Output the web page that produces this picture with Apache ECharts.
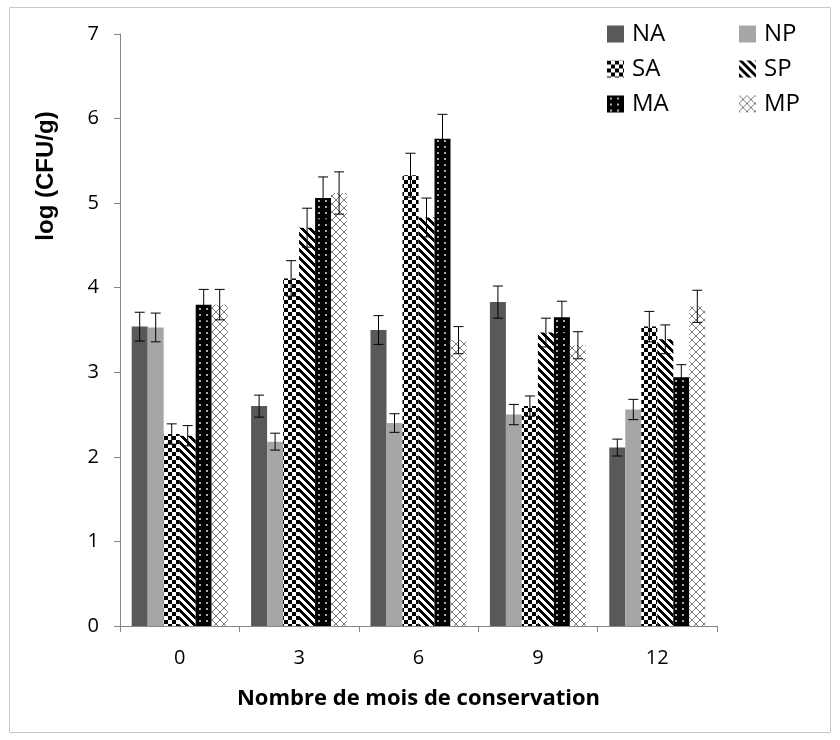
<!DOCTYPE html>
<html>
<head>
<meta charset="utf-8">
<script src="https://cdn.jsdelivr.net/npm/echarts@6/dist/echarts.min.js"></script>
<style>
html,body{margin:0;padding:0;background:#fff;}
#chart{width:840px;height:740px;}
</style>
</head>
<body>
<div id="chart"></div>
<script>
// ---- data ----
const categories = ['0', '3', '6', '9', '12'];
const seriesNames = ['NA', 'NP', 'SA', 'SP', 'MA', 'MP'];
const NA = [3.54, 2.60, 3.50, 3.83, 2.11];
const NP = [3.53, 2.18, 2.40, 2.50, 2.56];
const SA = [2.27, 4.11, 5.33, 2.60, 3.54];
const SP = [2.25, 4.71, 4.83, 3.47, 3.39];
const MA = [3.80, 5.06, 5.76, 3.65, 2.94];
const MP = [3.80, 5.12, 3.38, 3.32, 3.78];
const NA_err = [0.17, 0.13, 0.17, 0.19, 0.10];
const NP_err = [0.17, 0.10, 0.11, 0.12, 0.12];
const SA_err = [0.12, 0.21, 0.26, 0.12, 0.18];
const SP_err = [0.12, 0.23, 0.23, 0.17, 0.17];
const MA_err = [0.18, 0.25, 0.29, 0.19, 0.15];
const MP_err = [0.18, 0.25, 0.16, 0.16, 0.19];
const yTicks = { min: 0, max: 7, interval: 1 };

const values = [NA, NP, SA, SP, MA, MP];
const errors = [NA_err, NP_err, SA_err, SP_err, MA_err, MP_err];

// ---- patterns ----
function pattern(w, h, draw) {
  const c = document.createElement('canvas');
  c.width = w; c.height = h;
  const ctx = c.getContext('2d');
  draw(ctx, w, h);
  return { image: c, repeat: 'repeat' };
}
const patSA = pattern(8, 8, (ctx) => {
  ctx.fillStyle = '#fff'; ctx.fillRect(0, 0, 8, 8);
  ctx.fillStyle = '#000'; ctx.fillRect(0, 0, 4, 4); ctx.fillRect(4, 4, 4, 4);
});
const patSP = pattern(8, 8, (ctx) => {
  ctx.fillStyle = '#fff'; ctx.fillRect(0, 0, 8, 8);
  ctx.fillStyle = '#000';
  for (let x = 0; x < 8; x++) for (let y = 0; y < 8; y++) {
    if (((x - y) % 8 + 8) % 8 < 4) ctx.fillRect(x, y, 1, 1);
  }
});
const patMA = pattern(7, 6, (ctx) => {
  ctx.fillStyle = '#000'; ctx.fillRect(0, 0, 7, 6);
  ctx.fillStyle = '#a8a8a8'; ctx.fillRect(3, 2, 2, 2);
});
const patMP = pattern(8, 8, (ctx) => {
  ctx.fillStyle = '#fff'; ctx.fillRect(0, 0, 8, 8);
  ctx.strokeStyle = '#7a7a7a'; ctx.lineWidth = 1;
  ctx.beginPath();
  ctx.moveTo(0, 0); ctx.lineTo(8, 8);
  ctx.moveTo(8, 0); ctx.lineTo(0, 8);
  ctx.stroke();
});
const fills = ['#595959', '#a6a6a6', patSA, patSP, patMA, patMP];

const BW = 16;
const FONT = 'Open Sans';

const series = [];
seriesNames.forEach((name, i) => {
  series.push({
    name: name,
    type: 'bar',
    data: values[i],
    barWidth: BW,
    barGap: '0%',
    itemStyle: { color: fills[i] },
    z: 2
  });
});
seriesNames.forEach((name, i) => {
  series.push({
    type: 'custom',
    name: name + '_err',
    data: values[i].map((v, k) => [k, v, errors[i][k]]),
    encode: { x: 0, y: 1 },
    z: 5,
    silent: true,
    renderItem: function (params, api) {
      const cat = api.value(0), v = api.value(1), e = api.value(2);
      const c = api.coord([cat, v]);
      const t = api.coord([cat, v + e]);
      const b = api.coord([cat, v - e]);
      const x = c[0] + (i - 2.5) * BW;
      const st = { stroke: '#000', lineWidth: 1 };
      const hw = 5;
      return {
        type: 'group',
        children: [
          { type: 'line', shape: { x1: x, y1: t[1], x2: x, y2: b[1] }, style: st },
          { type: 'line', shape: { x1: x - hw, y1: t[1], x2: x + hw, y2: t[1] }, style: st },
          { type: 'line', shape: { x1: x - hw, y1: b[1], x2: x + hw, y2: b[1] }, style: st }
        ]
      };
    }
  });
});

const legendCommon = {
  orient: 'vertical',
  top: 17,
  itemWidth: 17,
  itemHeight: 17,
  itemGap: 11,
  icon: 'rect',
  selectedMode: false,
  textStyle: { fontFamily: FONT, fontSize: 24, color: '#000', lineHeight: 17, padding: [0, 0, 0, 3] }
};

const chart = echarts.init(document.getElementById('chart'), null, { renderer: 'canvas' });
chart.setOption({
  animation: false,
  backgroundColor: '#fff',
  grid: { left: 120, right: 123, top: 34, bottom: 114 },
  legend: [
    Object.assign({}, legendCommon, { left: 602, data: ['NA', 'SA', 'MA'] }),
    Object.assign({}, legendCommon, { left: 734, data: ['NP', 'SP', 'MP'] })
  ],
  xAxis: {
    type: 'category',
    data: categories,
    boundaryGap: true,
    axisLine: { lineStyle: { color: '#868686', width: 1 } },
    axisTick: { show: true, length: 6, lineStyle: { color: '#868686' } },
    axisLabel: { fontFamily: FONT, fontSize: 20, color: '#000', margin: 22 },
    name: 'Nombre de mois de conservation',
    nameLocation: 'middle',
    nameGap: 62,
    nameTextStyle: { fontFamily: FONT, fontSize: 22, fontWeight: 'bold', color: '#000' }
  },
  yAxis: {
    type: 'value',
    min: yTicks.min,
    max: yTicks.max,
    interval: yTicks.interval,
    splitLine: { show: false },
    axisLine: { show: true, lineStyle: { color: '#868686', width: 1 } },
    axisTick: { show: true, length: 6, lineStyle: { color: '#868686' } },
    axisLabel: { fontFamily: FONT, fontSize: 20, color: '#000', margin: 21 }
  },
  graphic: [
    {
      type: 'rect',
      shape: { x: 9.5, y: 7.5, width: 821, height: 725 },
      style: { fill: 'none', stroke: '#c8c8c8', lineWidth: 1 },
      z: -1
    },
    {
      type: 'text',
      x: 46,
      y: 176,
      rotation: Math.PI / 2,
      style: {
        text: 'log (CFU/g)',
        font: 'bold 24px "Liberation Sans", Arial, sans-serif',
        fill: '#000',
        textAlign: 'center',
        textVerticalAlign: 'middle'
      }
    }
  ],
  series: series
});
</script>
</body>
</html>
